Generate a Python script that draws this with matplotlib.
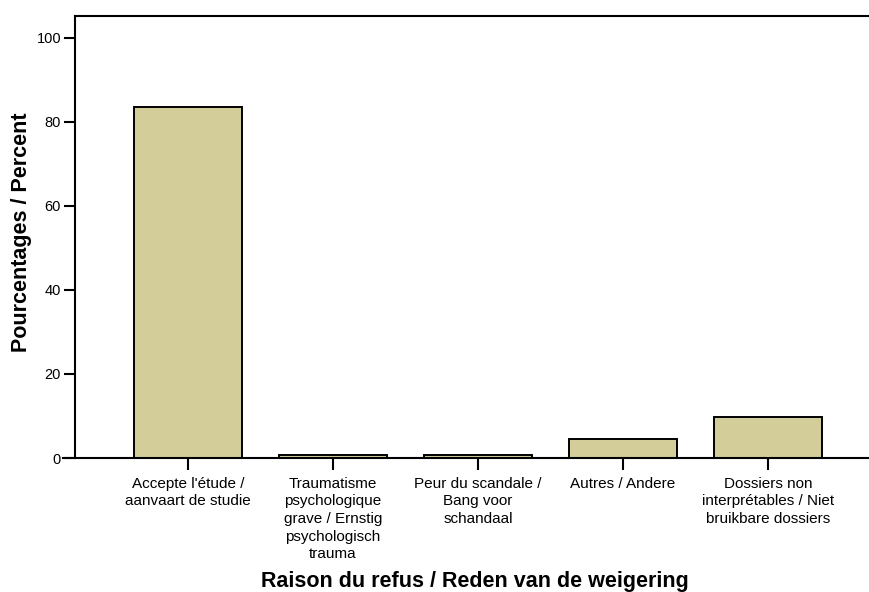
import numpy as np
import matplotlib
matplotlib.use("Agg")
import matplotlib.pyplot as plt

plt.rcParams['font.family'] = ['Liberation Sans', 'DejaVu Sans']

categories = [
    "Accepte l'étude /\naanvaart de studie",
    "Traumatisme\npsychologique\ngrave / Ernstig\npsychologisch\ntrauma",
    "Peur du scandale /\nBang voor\nschandaal",
    "Autres / Andere",
    "Dossiers non\ninterprétables / Niet\nbruikbare dossiers",
]
percent = [83.6, 0.8, 0.8, 4.5, 9.8]
yticks = [0, 20, 40, 60, 80, 100]

fig = plt.figure(figsize=(8.69, 5.92), dpi=100)
ax = fig.add_axes([63 / 869, (592 - 458) / 592, 1 - 63 / 869, (458 - 16) / 592])

x = np.arange(len(categories))
ax.bar(x, percent, width=0.75, color='#D3CE99', edgecolor='black', linewidth=1.4, zorder=2)

xmin, xmax = -0.862, 4.697
spine_x = -0.78
ax.set_xlim(xmin, xmax)
ax.set_ylim(0, 105.2)

ax.spines['right'].set_visible(False)
ax.spines['left'].set_position(('data', spine_x))
ax.spines['top'].set_bounds(spine_x, xmax)
for s in ['left', 'top', 'bottom']:
    ax.spines[s].set_linewidth(1.5)

ax.set_yticks(yticks)
ax.set_xticks(x)
ax.set_xticklabels(categories, fontsize=11, linespacing=1.33)
ax.tick_params(axis='y', length=8, width=1.5, labelsize=10.5, pad=2)
ax.tick_params(axis='x', length=8.5, width=1.5, pad=5)

ax.set_xlabel('Raison du refus / Reden van de weigering', fontsize=15.5, fontweight='bold')
ax.xaxis.set_label_coords(0.511, -0.256)
ax.set_ylabel('Pourcentages / Percent', fontsize=15.5, fontweight='bold')
ax.yaxis.set_label_coords(-0.038, 0.51)

fig.savefig('out.png', dpi=100)
